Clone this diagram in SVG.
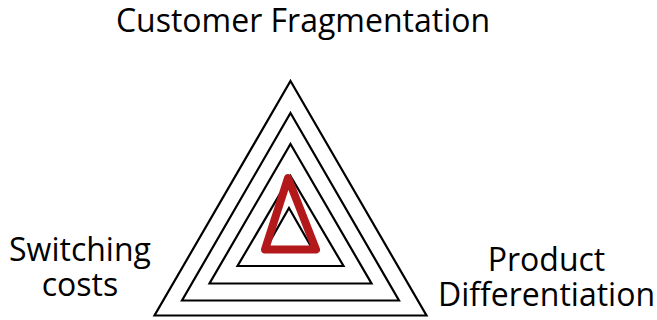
<svg xmlns="http://www.w3.org/2000/svg" width="657" height="320" viewBox="0 0 657 320">
<style>
.t{font-family:"Open Sans","Noto Sans",sans-serif;font-size:32px;fill:#000;text-anchor:middle}
.tri{fill:none;stroke:#000;stroke-width:2.2;stroke-linejoin:miter}
.red{fill:none;stroke:#b3181b;stroke-width:8;stroke-linejoin:round}
</style>
<rect width="657" height="320" fill="#fff"/>
<g id="triangles">
<polygon id="t1" class="tri" points="290.5,81 426.5,315.5 154.5,315.5"/>
<polygon id="t2" class="tri" points="290.5,113 399,300.5 182,300.5"/>
<polygon id="t3" class="tri" points="290.5,144 371.5,283.5 209.5,283.5"/>
<polygon id="t4" class="tri" points="290.5,176 343.5,266 237.5,266"/>
<polygon id="t5" class="tri" points="289,208 313,250 265,250"/>
<polygon id="red" class="red" points="288,178 316,249.5 265,249.5"/>
</g>
<g id="labels">
<text class="t" x="303" y="32">Customer Fragmentation</text>
<text class="t" x="80" y="261">Switching</text>
<text class="t" x="80" y="296">costs</text>
<text class="t" x="546.5" y="271">Product</text>
<text class="t" x="546.5" y="306">Differentiation</text>
</g>
</svg>
